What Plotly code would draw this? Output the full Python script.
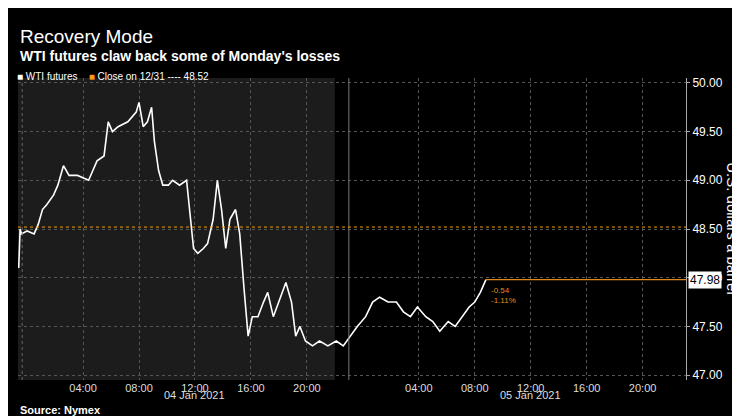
import pandas as pd
import plotly.graph_objects as go

# hours since 04 Jan 2021 00:00, and WTI price
hours = [-0.6, -0.5, -0.4, 0.0, 0.5, 0.8, 1.1, 1.4, 1.9, 2.2, 2.6, 2.8, 3.0, 3.6, 4.4, 4.7,
         5.0, 5.5, 5.8, 6.1, 6.5, 7.2, 7.8, 8.0, 8.3, 8.6, 8.9, 9.1, 9.4, 9.7, 10.1,
         10.4, 10.9, 11.4, 11.6, 11.9, 12.2, 12.6, 12.9, 13.3, 13.6, 13.9, 14.2,
         14.5, 14.9, 15.2, 15.5, 15.8, 16.1, 16.5, 16.9, 17.2, 17.6, 18.1, 18.5,
         18.9, 19.2, 19.5, 19.9, 20.4, 20.9, 21.5, 22.1, 22.6, 23.1, 23.6, 24.2,
         24.7, 25.2, 25.8, 26.4, 26.9, 27.4, 27.9, 28.5, 29.0, 29.5, 30.1, 30.6,
         31.1, 31.6, 32.0, 32.4, 32.8]
price = [48.10, 48.50, 48.45, 48.48, 48.45, 48.55, 48.70, 48.75, 48.85, 48.95, 49.15, 49.10,
         49.05, 49.05, 49.00, 49.10, 49.20, 49.25, 49.60, 49.50, 49.55, 49.60, 49.70, 49.80,
         49.55, 49.60, 49.75, 49.40, 49.10, 48.95, 48.95, 49.00, 48.95, 49.00, 48.70, 48.30,
         48.25, 48.30, 48.35, 48.60, 49.00, 48.70, 48.30, 48.60, 48.70, 48.45, 47.90, 47.40,
         47.60, 47.60, 47.75, 47.85, 47.60, 47.80, 47.95, 47.75, 47.40, 47.50, 47.35, 47.30,
         47.35, 47.30, 47.35, 47.30, 47.40, 47.50, 47.60, 47.75, 47.80, 47.75, 47.75, 47.65,
         47.60, 47.70, 47.60, 47.55, 47.45, 47.55, 47.50, 47.60, 47.70, 47.75, 47.85, 47.98]
prev_close = 48.52
last = 47.98
change = "-0.54"
change_pct = "-1.11%"
tick_hours = [4, 8, 12, 16, 20, 28, 32, 36, 40, 44]

base = pd.Timestamp("2021-01-04 00:00")
times = [base + pd.Timedelta(hours=h) for h in hours]
x0 = base + pd.Timedelta(hours=-0.65)
x1 = base + pd.Timedelta(hours=47.1)
session_split = base + pd.Timedelta(hours=22)
day_split = base + pd.Timedelta(hours=23)
ticks = [base + pd.Timedelta(hours=h) for h in tick_hours]

fig = go.Figure()
fig.add_trace(go.Scatter(x=times, y=price, mode="lines", line=dict(color="white", width=1.6),
                         showlegend=False, hoverinfo="skip"))

fig.add_shape(type="rect", xref="x", yref="paper", x0=x0, x1=session_split, y0=0, y1=1,
              fillcolor="#1c1c1c", line_width=0, layer="below")
fig.add_shape(type="line", xref="x", yref="paper", x0=day_split, x1=day_split, y0=0, y1=1,
              line=dict(color="#777", width=1))
fig.add_shape(type="line", xref="x", yref="paper", x0=base - pd.Timedelta(hours=0.35),
              x1=base - pd.Timedelta(hours=0.35), y0=0, y1=1, line=dict(color="#666", width=1, dash="dot"))
fig.add_shape(type="line", xref="paper", yref="y", x0=0, x1=1, y0=prev_close, y1=prev_close,
              line=dict(color="#f39c12", width=1, dash="dot"))
fig.add_shape(type="line", xref="x", yref="y", x0=times[-1], x1=x1, y0=last, y1=last,
              line=dict(color="#e08a1e", width=1.2))

fig.add_annotation(x=1.003, xref="paper", y=last, yref="y", text=f"{last:.2f}", showarrow=False,
                   xanchor="left", bgcolor="white", font=dict(color="black", size=12),
                   borderpad=1)
fig.add_annotation(x=times[-1], y=last - 0.04, text=change + "<br>" + change_pct, showarrow=False,
                   xanchor="left", yanchor="top", xshift=3, align="left",
                   font=dict(color="#e08a1e", size=8))
fig.add_annotation(x=1.07, xref="paper", y=0.5, yref="paper", text="U.S. dollars a barrel",
                   textangle=90, showarrow=False, xanchor="center",
                   font=dict(color="white", size=15))

fig.add_annotation(x=0, xref="paper", y=1.179, yref="paper", text="Recovery Mode", showarrow=False,
                   xanchor="left", font=dict(color="white", size=19))
fig.add_annotation(x=0, xref="paper", y=1.106, yref="paper", text="<b>WTI futures claw back some of Monday's losses</b>",
                   showarrow=False, xanchor="left", font=dict(color="white", size=14))
fig.add_annotation(x=-0.005, xref="paper", y=1.03, yref="paper",
                   text="<span style='color:white'>■</span> WTI futures    <span style='color:#f39c12'>■</span> Close on 12/31 ---- 48.52",
                   showarrow=False, xanchor="left", font=dict(color="white", size=10))
for d, lbl in [(12, "04 Jan 2021"), (36, "05 Jan 2021")]:
    fig.add_annotation(x=base + pd.Timedelta(hours=d), y=-0.076, yref="paper", text=lbl,
                       showarrow=False, font=dict(color="#ddd", size=11))
fig.add_annotation(x=0, xref="paper", y=-0.126, yref="paper", text="<b>Source: Nymex</b>",
                   showarrow=False, xanchor="left", font=dict(color="white", size=11))

fig.update_layout(
    width=740, height=416, paper_bgcolor="black", plot_bgcolor="black",
    margin=dict(l=10, r=62, t=70, b=44, autoexpand=False),
    font=dict(family="Liberation Sans, Arial, sans-serif", color="white"),
    xaxis=dict(range=[x0, x1], tickformat="%H:%M", tickvals=ticks, automargin=False,
               showgrid=True, gridcolor="#555", griddash="dot",
               tickfont=dict(size=11, color="#ddd"), zeroline=False, showline=False),
    yaxis=dict(side="right", range=[46.95, 50.05], dtick=0.5, tickformat=".2f", automargin=False,
               showgrid=True, gridcolor="#555", griddash="dot", showline=True,
               linecolor="#aaa", ticks="outside", ticklen=3, tickcolor="#aaa",
               tickfont=dict(size=12, color="white"), zeroline=False),
)

fig.write_html("out.html")
